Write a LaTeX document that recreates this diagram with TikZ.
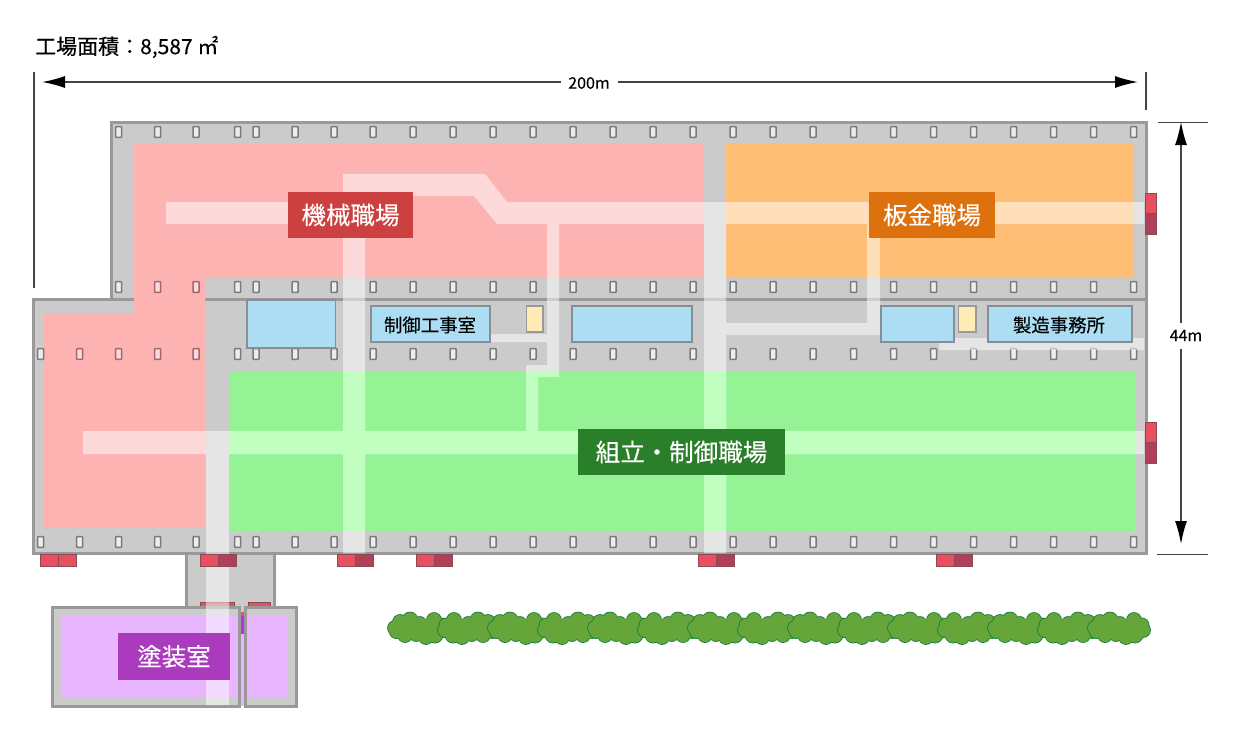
\documentclass[tikz,border=0pt]{standalone}
\usepackage{fontspec}
\setmainfont[FakeBold=0.25]{Noto Sans CJK JP}
\usetikzlibrary{arrows.meta}
\definecolor{floorgray}{HTML}{CBCBCB}
\definecolor{wallgray}{HTML}{999999}
\definecolor{pinkzone}{HTML}{FEB3B3}
\definecolor{orangezone}{HTML}{FFBE76}
\definecolor{greenzone}{HTML}{95F295}
\definecolor{greenpass}{HTML}{C1FFC1}
\definecolor{purplezone}{HTML}{E8B5FF}
\definecolor{roomblue}{HTML}{ADDDF2}
\definecolor{roomedge}{HTML}{858F95}
\definecolor{roomyellow}{HTML}{FEEBB5}
\definecolor{pillaredge}{HTML}{7A7A7A}
\definecolor{pillarfill}{HTML}{EDEDED}
\definecolor{pinkedge}{HTML}{A86468}
\definecolor{pinkfill}{HTML}{F6DCDC}
\definecolor{doorred}{HTML}{E85060}
\definecolor{doordark}{HTML}{B04058}
\definecolor{dooredge}{HTML}{8A4A55}
\definecolor{gapviolet}{HTML}{B830E0}
\definecolor{bushfill}{HTML}{66A53A}
\definecolor{bushedge}{HTML}{1E8040}
\definecolor{dimgray}{HTML}{444444}
\definecolor{lblred}{HTML}{CC4040}
\definecolor{lblorange}{HTML}{DC710D}
\definecolor{lblgreen}{HTML}{2A802A}
\definecolor{lblpurple}{HTML}{AB3BBD}
\tikzset{
  x=1pt,y=-1pt,
  wallbox/.style={draw=wallgray,line width=3pt,fill=floorgray},
  pillar/.style={draw=pillaredge,line width=1.5pt,fill=pillarfill,rounded corners=0.6pt},
  pinkpillar/.style={draw=pinkedge,line width=1.5pt,fill=pinkfill,rounded corners=0.6pt},
  roomb/.style={draw=roomedge,line width=1.3pt,fill=roomblue},
  roomy/.style={draw=wallgray,line width=1.3pt,fill=roomyellow},
  dra/.style={draw=dooredge,line width=0.8pt,fill=doorred},
  drb/.style={draw=dooredge,line width=0.8pt,fill=doordark},
  zonelabel/.style={fill=#1,text=white,font=\fontsize{24.5}{24}\selectfont,inner sep=0pt,anchor=center},
  roomtext/.style={text=black,font=\fontsize{18.4}{18}\selectfont,inner sep=0pt},
  dimtext/.style={text=black,font=\fontsize{16}{16}\selectfont,inner sep=0pt},
  dimline/.style={draw=dimgray,line width=1.4pt},
  dimarrow/.style={dimline,{Latex[length=23pt,width=12pt,black]}-{Latex[length=23pt,width=12pt,black]}},
}
\newcommand{\pillarat}[3][pillar]{\path[#1] (#2-3,#3-5.3) rectangle (#2+3,#3+5.3);}
\newcommand{\doorpair}[2]{%
  \path[dra] (#1,554) rectangle (#1+18,566);
  \path[#2] (#1+18,554) rectangle (#1+36,566);}
\begin{document}
\begin{tikzpicture}
\useasboundingbox (0,0) rectangle (1240,740);
\fill[white] (0,0) rectangle (1240,740);
% buildings
\path[wallbox] (186,553) rectangle (274,607);
\path[dra] (200.5,602) rectangle (234,608);
\path[dra] (248,602) rectangle (270.5,608);
\path[wallbox] (111,122) rectangle (1146,299);
\path[wallbox] (33,299) rectangle (1146,553);
\fill[purplezone] (239,607) rectangle (246,706);
\fill[floorgray] (239,606) rectangle (246,612);
\fill[doorred] (240,612) rectangle (244,616);
\fill[gapviolet] (240,616) rectangle (244,634);
\path[wallbox] (52,607) rectangle (239,706);
\path[wallbox] (245.5,607) rectangle (296,706);
% zones
\fill[pinkzone] (134,143) -- (704,143) -- (704,278) -- (205,278) -- (205,528) -- (44,528) -- (44,314) -- (134,314) -- cycle;
\fill[orangezone] (726,143) rectangle (1134,278);
\fill[greenzone] (229,372) rectangle (1136,531);
\fill[purplezone] (60.5,616) rectangle (237.5,698);
\fill[purplezone] (247,616) rectangle (288,698);
% pillars
\foreach \px in {118.7,157.7,196,237.7,256,295,334,373,413,453,493,533,573,613,653,693,733,773,813,853.5,893.5,933.5,973.5,1013.5,1053.5,1093.5,1133.5}{
  \pillarat{\px}{132}
  \pillarat{\px}{542}}
\foreach \px in {118.7,237.7,256,295,334,373,413,453,493,533,573,613,653,693,733,773,813,853.5,893.5,933.5,973.5,1013.5,1053.5,1093.5,1133.5}{
  \pillarat{\px}{287}}
\foreach \px in {157.7,196}{\pillarat[pinkpillar]{\px}{287}}
\foreach \px in {40.7,237.7,256,295,334,373,413,453,493,533,573,613,653,693,733,773,813,853.5,893.5,933.5,973.5,1013.5,1053.5,1093.5,1133.5}{
  \pillarat{\px}{354}}
\foreach \px in {79.7,118.7,157.7,196}{\pillarat[pinkpillar]{\px}{354}}
\foreach \px in {40.7,79.7}{\pillarat{\px}{542}}
% passages: one path, so that crossings are not lightened twice
\fill[white,fill opacity=0.5]
  (166,202) rectangle (350,224)
  (343,174) -- (343,196) -- (474,196) -- (497,224) -- (530,224) -- (530,202) -- (507,202) -- (485,174) -- cycle
  (520,202) rectangle (1144,224)
  (343,174) rectangle (365,553)
  (704,202) rectangle (726,553)
  (83,431) rectangle (1144,454)
  (206,431) rectangle (229,705)
  (547,224) rectangle (559,377)
  (526,365) rectangle (559,377)
  (526,365) rectangle (538,431)
  (480,334) rectangle (547,342)
  (867,224) rectangle (880,335)
  (726,323) rectangle (880,335)
  (939,338) rectangle (1144,350);
% passages where they cross the green zone
\fill[greenpass]
  (343,372) rectangle (365,531)
  (704,372) rectangle (726,531)
  (229,431) rectangle (1136,454)
  (526,372) rectangle (538,431)
  (538,372) rectangle (559,377);
% doors
\doorpair{40}{dra}
\doorpair{200}{drb}
\doorpair{337}{drb}
\doorpair{416}{drb}
\doorpair{698}{drb}
\doorpair{936}{drb}
\path[dra] (1145,193) rectangle (1156,213);
\path[drb] (1145,213) rectangle (1156,234);
\path[dra] (1145,422) rectangle (1156,442);
\path[drb] (1145,442) rectangle (1156,463);
% rooms
\path[roomb] (247,300) rectangle (335.5,348);
\path[roomb] (371,306) rectangle (490,342);
\path[roomy] (526.5,306) rectangle (543,332);
\path[roomb] (572,306) rectangle (692,342);
\path[roomb] (881,306) rectangle (954,342);
\path[roomy] (958.5,306) rectangle (976,332);
\path[roomb] (988,306) rectangle (1132,342);
\node[roomtext] (seigyo) at (430,325) {制御工事室};
\node[roomtext] (jimu) at (1059,325) {製造事務所};
% zone labels
\node[zonelabel=lblred,minimum width=125pt,minimum height=46pt] (kikai) at (350.5,215) {機械職場};
\node[zonelabel=lblorange,minimum width=126pt,minimum height=46pt] (bankin) at (932,215) {板金職場};
\node[zonelabel=lblgreen,minimum width=207pt,minimum height=46pt] (kumi) at (681.5,452) {組立・制御職場};
\node[zonelabel=lblpurple,minimum width=112pt,minimum height=47pt] (toso) at (174,656.5) {塗装室};
% hedge
\foreach \k in {0,...,14}{
  \pgfmathsetmacro{\bx}{388+50*\k}
  \pgfmathsetmacro{\fl}{mod(\k,2)==0 ? 1 : -1}
  \pgfmathsetmacro{\ox}{mod(\k,2)==0 ? 0 : 62}
  \begin{scope}[shift={(\bx+\ox,628)},xscale=\fl]
    \foreach \a/\b/\r in {7/0/7,12/-6/7,22/-8/7.5,32/-5/6,46/-8/7,54/-3/6.5,55/2/7,47/7/7.5,38/9/7,28/7/6,17/7/7,8/4/6}{
      \fill[bushedge] (\a,\b) circle[radius=\r+0.9];}
    \foreach \a/\b/\r in {7/0/7,12/-6/7,22/-8/7.5,32/-5/6,46/-8/7,54/-3/6.5,55/2/7,47/7/7.5,38/9/7,28/7/6,17/7/7,8/4/6,20/0/10,34/0/10,46/0/9}{
      \fill[bushfill] (\a,\b) circle[radius=\r];}
  \end{scope}}
% dimensions
\coordinate (hl) at (34,72); \coordinate (hlb) at (34,288);
\coordinate (hr) at (1146,72); \coordinate (hrb) at (1146,110);
\draw[dimline] (hl) -- (hlb);
\draw[dimline] (hr) -- (hrb);
\coordinate (al) at (42,82); \coordinate (ar) at (1138,82);
\draw[dimarrow] (al) -- (ar);
\node[dimtext,fill=white,minimum width=57pt,minimum height=14pt] (w200) at (589,83) {200m};
\coordinate (vt) at (1181,122); \coordinate (vb) at (1181,544);
\draw[dimline,line width=1pt] (1158,122) -- (1208,122);
\draw[dimline,line width=1pt] (1157,554) -- (1208,554);
\draw[dimarrow] (vt) -- (vb);
\node[dimtext,fill=white,minimum width=36pt,minimum height=26pt] (h44) at (1186,335.5) {44m};
\node[anchor=west,inner sep=0pt,text=black,font=\fontsize{21}{21}\selectfont] (area) at (35,47) {工場面積：8,587 ㎡};
\end{tikzpicture}
\end{document}
